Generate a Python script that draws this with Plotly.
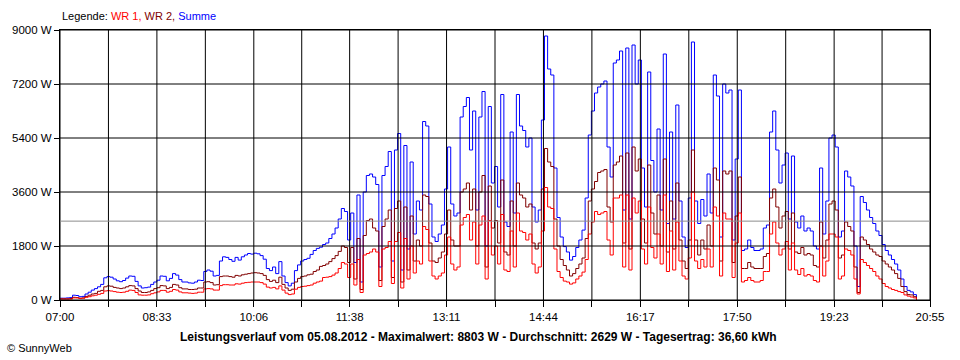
import pandas as pd
import plotly.graph_objects as go

# ---- data (3-minute samples from 07:00) ----
tick_labels = ["07:00", "08:33", "10:06", "11:38", "13:11", "14:44", "16:17", "17:50", "19:23", "20:55"]
y_ticks = [0, 1800, 3600, 5400, 7200, 9000]
datum = "05.08.2012"
max_w = 8803
avg_w = 2629
ertrag = "36,60"

wr1 = [
    30, 30, 30, 30, 70, 70, 50, 60, 90, 110,
    140, 160, 190, 220, 300, 310, 300, 280, 260, 250,
    260, 290, 330, 320, 250, 170, 160, 160, 170, 210,
    240, 270, 320, 320, 260, 290, 350, 330, 270, 240,
    240, 230, 220, 230, 260, 260, 370, 380, 370, 330,
    330, 480, 510, 510, 500, 500, 540, 530, 560, 580,
    590, 600, 600, 600, 580, 530, 430, 400, 420, 370,
    470, 330, 230, 180, 200, 360, 420, 450, 460, 480,
    500, 560, 600, 630, 750, 760, 780, 830, 900, 1050,
    1250, 1200, 750, 1200, 500, 1350, 250, 1500, 1550, 1600,
    1700, 1600, 450, 1700, 1750, 1950, 550, 1950, 2250, 400,
    2050, 700, 1800, 900, 1300, 1200, 2450, 2350, 1300, 800,
    700, 800, 900, 1500, 2100, 1200, 1000, 1100, 2500, 2750,
    2850, 2000, 2600, 1200, 2500, 2800, 700, 2650, 1500, 1800,
    1200, 2850, 1000, 950, 2300, 1100, 2900, 2300, 2250, 2000,
    2200, 1200, 900, 1100, 2300, 3750, 3100, 3050, 1700, 950,
    750, 630, 600, 530, 570, 700, 800, 930, 1350, 2200,
    2600, 2950, 2850, 2900, 2950, 2000, 1500, 3400, 3400, 3500,
    1100, 3500, 1000, 3400, 2900, 3300, 1700, 1200, 3100, 1750,
    1400, 2200, 1200, 3500, 950, 2300, 1000, 2600, 1300, 800,
    700, 1400, 3600, 1300, 1050, 1350, 1100, 1700, 1100, 3100,
    2800, 800, 2900, 2700, 2700, 750, 1900, 2900, 600, 650,
    750, 650, 600, 600, 650, 950, 950, 2200, 2600, 1900,
    1500, 1700, 1950, 1000, 1900, 1000, 850, 1050, 800, 850,
    800, 650, 600, 1800, 800, 1300, 2200, 2200, 2100, 700,
    800, 1700, 1650, 1500, 700, 200, 1350, 1250, 1150, 1050,
    950, 800, 700, 550, 450, 400, 350, 320, 280, 250,
    170, 130, 100, 70, 10,
]

wr2 = [
    40, 40, 40, 50, 90, 80, 60, 70, 120, 160,
    200, 220, 290, 320, 440, 470, 460, 420, 400, 380,
    400, 440, 480, 470, 380, 300, 250, 250, 270, 320,
    380, 410, 480, 470, 380, 420, 520, 500, 410, 370,
    370, 350, 350, 360, 400, 400, 600, 610, 580, 500,
    510, 780, 800, 800, 780, 760, 820, 800, 840, 860,
    880, 900, 910, 900, 880, 820, 680, 620, 660, 580,
    760, 520, 400, 320, 360, 600, 720, 780, 800, 840,
    860, 950, 1000, 1120, 1150, 1200, 1280, 1380, 1480, 1620,
    1800, 1750, 1250, 1750, 700, 2050, 350, 2150, 2650, 2700,
    2400, 2300, 650, 2450, 2700, 3000, 750, 3050, 3300, 600,
    3100, 1000, 2800, 1300, 2000, 1800, 3500, 3450, 1900, 1300,
    1250, 1400, 1600, 2200, 3000, 2000, 1800, 1800, 3600, 3700,
    3900, 3000, 3700, 1800, 3600, 4150, 1100, 3800, 2400, 2650,
    1900, 4000, 1600, 1500, 3300, 1800, 3900, 3500, 3400, 3100,
    3200, 1900, 1700, 1900, 3700, 5050, 4600, 4450, 2700, 1800,
    1350, 1150, 1000, 800, 880, 1050, 1200, 1400, 2050, 3300,
    3700, 3950, 4250, 4300, 4350, 3100, 2600, 4500, 4600, 4800,
    1900, 4900, 1700, 5100, 4300, 4700, 2700, 1900, 4500, 2900,
    2200, 3500, 1800, 4700, 1600, 3300, 1700, 3900, 2000, 1300,
    1050, 2000, 5000, 2000, 1500, 2000, 1700, 2500, 1800, 4400,
    4000, 1300, 4300, 4200, 4300, 1250, 2800, 4100, 1050, 1050,
    1250, 1100, 1050, 1050, 1050, 1450, 1550, 3400, 3700, 3100,
    2400, 2800, 2950, 1700, 2900, 1600, 1550, 1750, 1500, 1550,
    1500, 1150, 1100, 2600, 1400, 2000, 3200, 3300, 3000, 1400,
    1500, 2600, 2450, 2300, 1100, 250, 2100, 2000, 1850, 1700,
    1600, 1500, 1450, 1300, 1200, 1100, 1000, 880, 720, 450,
    280, 180, 170, 110, 10,
]

summe = [
    60, 60, 70, 80, 160, 150, 110, 120, 200, 260,
    330, 380, 440, 520, 740, 780, 760, 700, 640, 610,
    650, 730, 800, 790, 620, 470, 400, 410, 430, 520,
    600, 660, 800, 790, 640, 720, 880, 830, 680, 600,
    600, 570, 560, 600, 660, 650, 950, 1000, 960, 800,
    820, 1300, 1440, 1420, 1350, 1290, 1420, 1330, 1440, 1500,
    1550, 1530, 1560, 1540, 1480, 1360, 1050, 980, 1100, 880,
    1280, 800, 580, 470, 560, 980, 1170, 1300, 1350, 1390,
    1520, 1650, 1720, 1760, 1850, 1900, 2050, 2200, 2400, 2700,
    3050, 2950, 2000, 2900, 1250, 3500, 600, 3600, 4150, 4200,
    4100, 3850, 1100, 4150, 4450, 4950, 1300, 5000, 5550, 1000,
    5150, 1700, 4600, 2200, 3300, 3000, 5950, 5800, 3200, 2100,
    1950, 2200, 2500, 3700, 5100, 3200, 2800, 2900, 6100, 6450,
    6750, 5000, 6300, 3000, 6100, 6950, 1800, 6450, 3900, 4450,
    3100, 6850, 2600, 2450, 5600, 2900, 6850, 5800, 5650, 5100,
    5400, 3100, 2600, 3000, 6000, 8800, 7700, 7500, 4400, 2750,
    2100, 1780, 1600, 1330, 1450, 1750, 2000, 2330, 3400, 5500,
    6300, 6900, 7100, 7200, 7300, 5100, 4100, 7900, 8000, 8300,
    3000, 8400, 2700, 8500, 7200, 8000, 4400, 3100, 7600, 4650,
    3600, 5700, 3000, 8200, 2550, 5600, 2700, 6500, 3300, 2100,
    1750, 3400, 8600, 3300, 2550, 3350, 2800, 4200, 2900, 7500,
    6800, 2100, 7200, 6900, 7000, 2000, 4700, 7000, 1650, 1700,
    2000, 1750, 1650, 1650, 1700, 2400, 2500, 5600, 6300, 5000,
    3900, 4500, 4900, 2700, 4800, 2600, 2400, 2800, 2300, 2400,
    2300, 1800, 1700, 4400, 2200, 3300, 5400, 5500, 5100, 2100,
    2300, 4300, 4100, 3800, 1800, 450, 3450, 3250, 3000, 2750,
    2550, 2300, 2150, 1850, 1650, 1500, 1350, 1200, 1000, 700,
    450, 320, 270, 180, 20,
]

# ---- figure ----
FONT = "Liberation Sans, Arial, sans-serif"
times = pd.date_range("2012-08-05 07:00", periods=len(summe), freq="3min")
major = list(pd.to_datetime(["2012-08-05 " + t for t in tick_labels]))
minor = [major[k] + (major[k + 1] - major[k]) / 2 for k in range(len(major) - 1)]

fig = go.Figure()
for name, vals, col in [("Summe", summe, "#0000FF"), ("WR 2", wr2, "#800000"), ("WR 1", wr1, "#FF0000")]:
    fig.add_trace(go.Scatter(x=times, y=vals, mode="lines", name=name, showlegend=False,
                             line=dict(color=col, width=1, shape="hv")))

shapes = []
for t in major + minor:
    shapes.append(dict(type="line", xref="x", yref="paper", x0=t, x1=t, y0=0, y1=1,
                       line=dict(color="black", width=1), layer="above"))
for v in y_ticks:
    shapes.append(dict(type="line", xref="paper", yref="y", x0=0, x1=1, y0=v, y1=v,
                       line=dict(color="black", width=1), layer="above"))
shapes.append(dict(type="line", xref="paper", yref="y", x0=0, x1=1, y0=avg_w, y1=avg_w,
                   line=dict(color="#8c8c8c", width=1), layer="above"))

title_text = (f"<b>Leistungsverlauf vom {datum} - Maximalwert: {max_w} W - "
              f"Durchschnitt: {avg_w} W - Tagesertrag: {ertrag} kWh</b>")
legend_text = ("Legende: <span style='color:#FF0000'>WR 1,</span> "
               "<span style='color:#800000'>WR 2,</span> "
               "<span style='color:#0000FF'>Summe</span>")

fig.update_layout(
    width=960, height=360,
    margin=dict(l=60, r=30, t=30, b=60),
    paper_bgcolor="white", plot_bgcolor="white",
    font=dict(family=FONT, size=11, color="black"),
    shapes=shapes,
    annotations=[
        dict(text=legend_text, xref="paper", yref="paper", x=0, y=1.052,
             xanchor="left", yanchor="middle", showarrow=False,
             font=dict(family=FONT, size=11, color="black")),
        dict(text=title_text, xref="paper", yref="paper", x=0.4805, y=-0.137,
             xanchor="center", yanchor="middle", showarrow=False,
             font=dict(family=FONT, size=12, color="black")),
        dict(text="© SunnyWeb", xref="paper", yref="paper", x=-0.0632, y=-0.178,
             xanchor="left", yanchor="middle", showarrow=False,
             font=dict(family=FONT, size=11, color="black")),
    ],
    xaxis=dict(
        range=[major[0], major[-1]], tickmode="array", tickvals=major, ticktext=tick_labels,
        ticks="outside", ticklen=6, tickcolor="black", tickwidth=1,
        minor=dict(tickmode="array", tickvals=minor, ticks="outside", ticklen=6,
                   tickcolor="black", tickwidth=1, showgrid=False),
        showgrid=False, zeroline=False, showline=True, linecolor="black", linewidth=1,
        mirror=True, layer="above traces", tickfont=dict(family=FONT, size=11.5, color="black"),
    ),
    yaxis=dict(
        range=[0, 9000], tickmode="array", tickvals=y_ticks, ticktext=[f"{v} W" for v in y_ticks],
        ticks="outside", ticklen=5, tickcolor="black", tickwidth=1,
        showgrid=False, zeroline=False, showline=True, linecolor="black", linewidth=1,
        mirror=True, layer="above traces", tickfont=dict(family=FONT, size=11.5, color="black"),
    ),
)

fig.write_html("out.html", config={"displayModeBar": False},
               post_script=["document.body.style.margin='0';"])
